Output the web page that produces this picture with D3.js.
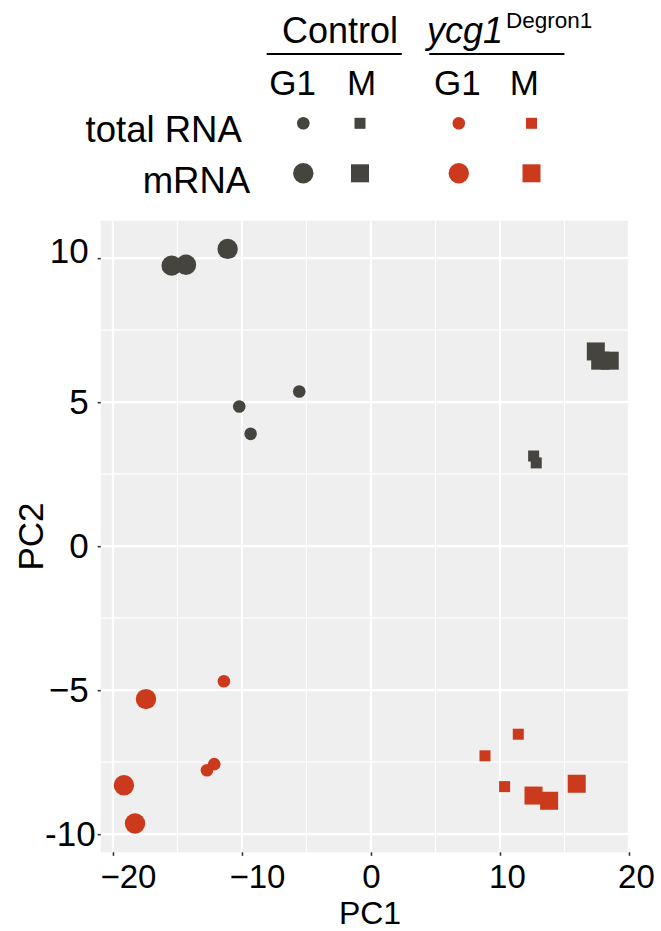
<!DOCTYPE html>
<html>
<head>
<meta charset="utf-8">
<script src="https://cdn.jsdelivr.net/npm/d3@7/dist/d3.min.js"></script>
<style>
  html, body { margin: 0; padding: 0; background: #ffffff; }
  svg text { font-family: "Liberation Sans", Arial, Helvetica, sans-serif; fill: #000; }
</style>
</head>
<body>
<svg id="chart" width="661" height="931"></svg>
<script>
// PCA scores [PC1, PC2] per sample group
const controlG1Total = [[-10.21, 4.85], [-9.33, 3.90], [-5.56, 5.37]];
const controlG1mRNA  = [[-15.45, 9.74], [-14.34, 9.77], [-11.11, 10.32]];
const controlMTotal  = [[12.61, 3.13], [12.81, 2.89]];
const controlMmRNA   = [[17.43, 6.76], [17.77, 6.44], [18.51, 6.44]];
const ycg1G1Total    = [[-11.40, -4.69], [-12.15, -7.57], [-12.71, -7.78]];
const ycg1G1mRNA     = [[-17.44, -5.31], [-19.15, -8.30], [-18.29, -9.63]];
const ycg1MTotal     = [[11.42, -6.53], [8.84, -7.28], [10.36, -8.35]];
const ycg1MmRNA      = [[12.60, -8.66], [13.81, -8.84], [15.95, -8.25]];

// Axis ticks
const xTickValues = [-20, -10, 0, 10, 20];
const xTickLabels = ["\u221220", "\u221210", "0", "10", "20"];
const yTickValues = [-10, -5, 0, 5, 10];
const yTickLabels = ["-10", "\u22125", "0", "5", "10"];
const xMinorTicks = [-15, -5, 5, 15];
const yMinorTicks = [-7.5, -2.5, 2.5, 7.5];

// Legend
const genotypes = ["Control", "ycg1"];
const phases = ["G1", "M"];
const libraries = ["total RNA", "mRNA"];

const colors = { Control: "#45443f", ycg1: "#cc3a1d" };
const shapes = { G1: "circle", M: "square" };

const groups = [
  { geno: "Control", phase: "G1", lib: "total RNA", pts: controlG1Total },
  { geno: "Control", phase: "G1", lib: "mRNA",      pts: controlG1mRNA },
  { geno: "Control", phase: "M",  lib: "total RNA", pts: controlMTotal },
  { geno: "Control", phase: "M",  lib: "mRNA",      pts: controlMmRNA },
  { geno: "ycg1",    phase: "G1", lib: "total RNA", pts: ycg1G1Total },
  { geno: "ycg1",    phase: "G1", lib: "mRNA",      pts: ycg1G1mRNA },
  { geno: "ycg1",    phase: "M",  lib: "total RNA", pts: ycg1MTotal },
  { geno: "ycg1",    phase: "M",  lib: "mRNA",      pts: ycg1MmRNA }
];

const svg = d3.select("#chart");

// panel geometry
const panel = { left: 100.7, right: 630, top: 220.7, bottom: 852.3 };
const x = d3.scaleLinear().domain([-20.95, 20.08]).range([panel.left, panel.right]);
const y = d3.scaleLinear().domain([-10.63, 11.30]).range([panel.bottom, panel.top]);

// marker sizes (circle radius / square side)
const circleR = { "total RNA": 6.3, "mRNA": 10.2 };
const squareS = { "total RNA": 11, "mRNA": 18 };

function drawMarker(g, shape, lib, cx, cy, fill) {
  if (shape === "circle") {
    g.append("circle").attr("cx", cx).attr("cy", cy).attr("r", circleR[lib]).attr("fill", fill);
  } else {
    const s = squareS[lib];
    g.append("rect").attr("x", cx - s / 2).attr("y", cy - s / 2)
      .attr("width", s).attr("height", s).attr("fill", fill);
  }
}

// panel background
svg.append("rect")
  .attr("x", panel.left).attr("y", panel.top)
  .attr("width", panel.right - panel.left).attr("height", panel.bottom - panel.top)
  .attr("fill", "#efefef");

const grid = svg.append("g");
grid.selectAll(".vminor").data(xMinorTicks).join("line")
  .attr("x1", d => x(d)).attr("x2", d => x(d))
  .attr("y1", panel.top).attr("y2", panel.bottom)
  .attr("stroke", "#fff").attr("stroke-width", 1.1);
grid.selectAll(".hminor").data(yMinorTicks).join("line")
  .attr("y1", d => y(d)).attr("y2", d => y(d))
  .attr("x1", panel.left).attr("x2", panel.right)
  .attr("stroke", "#fff").attr("stroke-width", 1.1);
grid.selectAll(".vmajor").data(xTickValues).join("line")
  .attr("x1", d => x(d)).attr("x2", d => x(d))
  .attr("y1", panel.top).attr("y2", panel.bottom)
  .attr("stroke", "#fff").attr("stroke-width", 2.2);
grid.selectAll(".hmajor").data(yTickValues).join("line")
  .attr("y1", d => y(d)).attr("y2", d => y(d))
  .attr("x1", panel.left).attr("x2", panel.right)
  .attr("stroke", "#fff").attr("stroke-width", 2.2);

// points: total RNA drawn first, mRNA on top
const pointsG = svg.append("g");
groups.forEach(gr => {
  gr.pts.forEach(p => drawMarker(pointsG, shapes[gr.phase], gr.lib, x(p[0]), y(p[1]), colors[gr.geno]));
});

// axes
const xLabelShift = v => (v < 0 ? 15 : v > 0 ? 7 : 0);
const xAxis = d3.axisBottom(x)
  .tickValues(xTickValues)
  .tickFormat((d, i) => xTickLabels[i])
  .tickSize(3.5).tickPadding(8.5);
const gx = svg.append("g").attr("transform", `translate(0,${panel.bottom})`).call(xAxis);
gx.select(".domain").remove();
gx.selectAll(".tick line").attr("stroke", "#333").attr("stroke-width", 1.6);
gx.selectAll(".tick text")
  .attr("font-size", 33).attr("fill", "#000")
  .attr("dx", d => xLabelShift(d));

const yAxis = d3.axisLeft(y)
  .tickValues(yTickValues)
  .tickFormat((d, i) => yTickLabels[i])
  .tickSize(3).tickPadding(9);
const gy = svg.append("g").attr("transform", `translate(${panel.left},0)`).call(yAxis);
gy.select(".domain").remove();
gy.selectAll(".tick line").attr("stroke", "#333").attr("stroke-width", 1.6);
gy.selectAll(".tick text")
  .attr("font-size", 35).attr("fill", "#000")
  .attr("dx", d => (d === -10 ? 7 : 0))
  .attr("transform", d => (d === 10 ? "translate(0,-7)" : null));

// axis titles
svg.append("text")
  .attr("x", 370).attr("y", 924)
  .attr("text-anchor", "middle").attr("font-size", 32)
  .text("PC1");
svg.append("text")
  .attr("transform", `translate(43,${(panel.top + panel.bottom) / 2}) rotate(-90)`)
  .attr("text-anchor", "middle").attr("font-size", 35)
  .text("PC2");

// legend
const leg = svg.append("g");
const headerX = { Control: 282, ycg1: 427 };
const underline = { Control: [266.7, 401.8], ycg1: [429.3, 564.4] };
const colX = { Control: { G1: 303.3, M: 360 }, ycg1: { G1: 458.8, M: 531.5 } };
const colLabelX = { Control: { G1: 292.6, M: 361.5 }, ycg1: { G1: 457.3, M: 524.4 } };
const rowY = { "total RNA": 123.3, "mRNA": 173.3 };
const rowLabel = { "total RNA": { x: 241.8, y: 141.7 }, "mRNA": { x: 250.2, y: 192.5 } };

leg.append("text").attr("x", headerX.Control).attr("y", 43.3)
  .attr("font-size", 36).text("Control");
const yt = leg.append("text").attr("x", headerX.ycg1).attr("y", 43.3).attr("font-size", 36);
yt.append("tspan").attr("font-style", "italic").text("ycg1");
yt.append("tspan").attr("font-size", 22.5).attr("dx", 3).attr("dy", -15).text("Degron1");

genotypes.forEach(gn => {
  leg.append("line")
    .attr("x1", underline[gn][0]).attr("x2", underline[gn][1])
    .attr("y1", 54).attr("y2", 54)
    .attr("stroke", "#000").attr("stroke-width", 2);
  phases.forEach(ph => {
    leg.append("text").attr("x", colLabelX[gn][ph]).attr("y", 95)
      .attr("text-anchor", "middle").attr("font-size", 35).text(ph);
    libraries.forEach(lb => drawMarker(leg, shapes[ph], lb, colX[gn][ph], rowY[lb], colors[gn]));
  });
});
libraries.forEach(lb => {
  leg.append("text").attr("x", rowLabel[lb].x).attr("y", rowLabel[lb].y)
    .attr("text-anchor", "end").attr("font-size", 36.5).text(lb);
});
</script>
</body>
</html>
